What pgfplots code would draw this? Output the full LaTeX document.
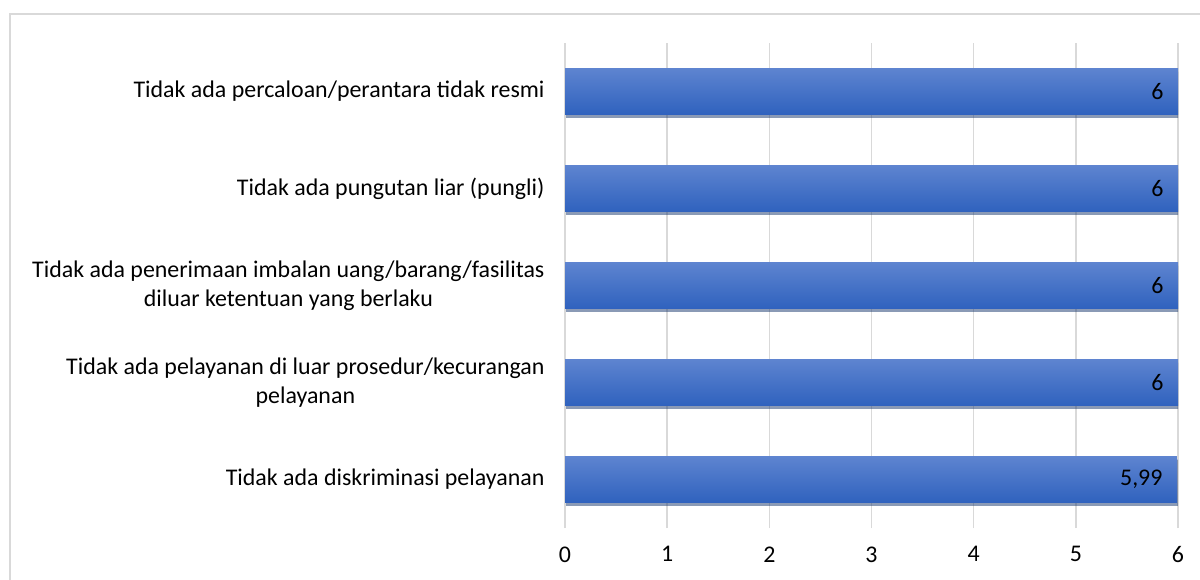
\documentclass[border=0pt]{standalone}
\usepackage{fontspec}
\setmainfont{Carlito}
\usepackage{pgfplots}
\pgfplotsset{compat=1.18}
\usetikzlibrary{shadows}
\definecolor{gridc}{HTML}{D9D9D9}
\definecolor{bartop}{HTML}{5E84D0}
\definecolor{barbot}{HTML}{2F62BE}
\begin{document}
\begin{tikzpicture}
\useasboundingbox (0,0) rectangle (1200bp,580bp);
\draw[gridc, line width=1.5bp] (10bp,-5bp) -- (10bp,566bp) -- (1205bp,566bp);
\begin{axis}[
  at={(565bp,52bp)}, anchor=south west,
  scale only axis,
  width=613bp, height=485bp,
  xmin=0, xmax=6,
  ymin=-0.5, ymax=4.5,
  xtick={0,1,2,3,4,5,6},
  ytick={0,1,2,3,4},
  yticklabels={
    {Tidak ada diskriminasi pelayanan},
    {Tidak ada pelayanan di luar prosedur/kecurangan\\pelayanan},
    {Tidak ada penerimaan imbalan uang/barang/fasilitas\\diluar ketentuan yang berlaku},
    {Tidak ada pungutan liar (pungli)},
    {Tidak ada percaloan/perantara tidak resmi}},
  axis line style={draw=none},
  major tick length=0pt,
  xmajorgrids,
  grid style={gridc, line width=1.5bp},
  /pgf/number format/assume math mode=true,
  /pgf/number format/use comma,
  /pgf/number format/fixed,
  /pgf/number format/precision=2,
  tick label style={font=\fontsize{24}{29}\selectfont, text=black},
  xticklabel style={yshift=-15bp},
  yticklabel style={align=center, xshift=-17bp},
  xbar,
  bar width=46bp,
  bar shift=0pt,
  point meta=x,
  nodes near coords,
  every node near coord/.append style={anchor=east, xshift=-11bp, font=\fontsize{24}{29}\selectfont, text=black},
  barstyle/.style={draw=none, top color=bartop, bottom color=barbot,
    drop shadow={shadow xshift=1bp, shadow yshift=-3.5bp, opacity=0.3, fill=black}},
]
\addplot[barstyle] coordinates {(5.99,0)};
\addplot[barstyle] coordinates {(6,1)};
\addplot[barstyle] coordinates {(6,2)};
\addplot[barstyle] coordinates {(6,3)};
\addplot[barstyle] coordinates {(6,4)};
\end{axis}
\end{tikzpicture}
\end{document}
